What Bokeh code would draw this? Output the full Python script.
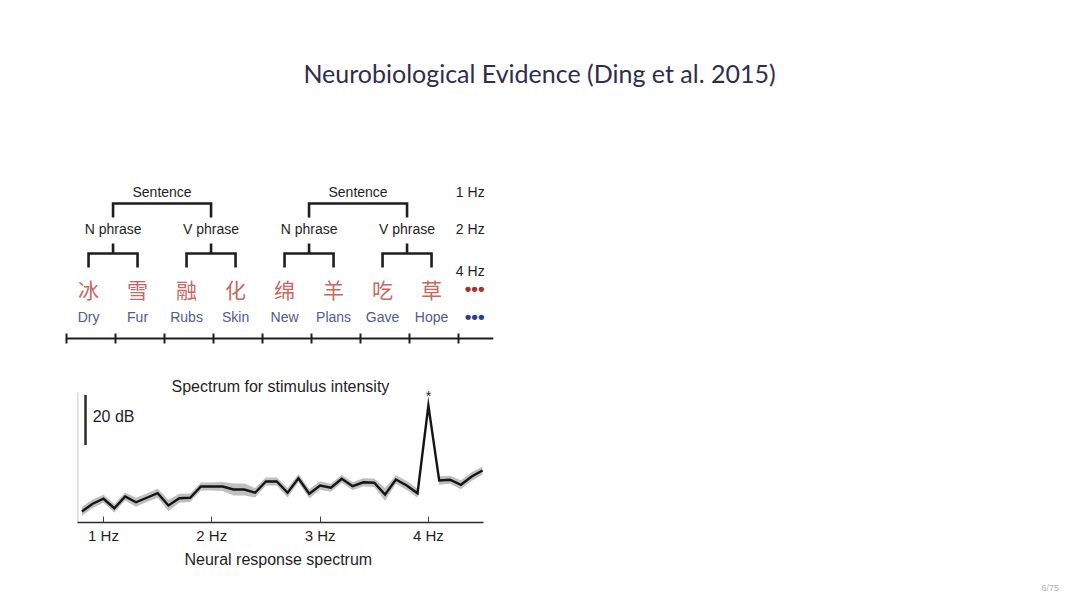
from bokeh.plotting import figure
from bokeh.models import Range1d, FixedTicker, LinearAxis, Title
from bokeh.embed import file_html
from bokeh.resources import INLINE
from bokeh.core.properties import value

# ---------------- data ----------------
title_text = "Neurobiological Evidence (Ding et al. 2015)"
page_label = "6/75"

chinese_words = ["冰", "雪", "融", "化", "绵", "羊", "吃", "草"]
english_words = ["Dry", "Fur", "Rubs", "Skin", "New", "Plans", "Gave", "Hope"]
phrase_labels = ["N phrase", "V phrase", "N phrase", "V phrase"]
sentence_labels = ["Sentence", "Sentence"]
rate_labels = ["1 Hz", "2 Hz", "4 Hz"]
continuation = "•••"

spectrum_title = "Spectrum for stimulus intensity"
spectrum_xlabel = "Neural response spectrum"
freq_ticks = [1, 2, 3, 4]
freq_tick_labels = ["1 Hz", "2 Hz", "3 Hz", "4 Hz"]
scale_bar_label = "20 dB"
scale_bar_db = 20
peak_marker = "*"
peak_freq = 4.0

freq_hz = [0.8, 0.9, 1.0, 1.1, 1.2, 1.3, 1.4, 1.5, 1.6, 1.7, 1.8, 1.9,
           2.0, 2.1, 2.2, 2.3, 2.4, 2.5, 2.6, 2.7, 2.8, 2.9,
           3.0, 3.1, 3.2, 3.3, 3.4, 3.5, 3.6, 3.7, 3.8, 3.9,
           4.0, 4.1, 4.2, 4.3, 4.4, 4.5]
power_db = [4.4, 7.5, 9.5, 5.7, 10.4, 8.1, 9.9, 11.7, 6.8, 9.7, 9.9, 14.4,
            14.4, 14.4, 13.2, 13.2, 11.9, 16.4, 16.4, 11.9, 17.7, 11.5,
            14.8, 13.9, 17.5, 14.5, 16.1, 15.9, 11.2, 17.2, 14.8, 11.7,
            46.8, 16.8, 17.1, 15.1, 18.4, 20.8]
power_sem = [1.8, 1.7, 1.6, 1.7, 1.6, 1.8, 1.7, 1.8, 2.3, 1.8, 1.7, 1.6,
             1.6, 1.8, 2.4, 2.4, 1.9, 1.6, 1.6, 1.9, 1.6, 1.9,
             1.7, 1.6, 1.6, 1.6, 1.6, 1.7, 2.6, 1.7, 1.8, 1.8,
             1.2, 1.7, 1.6, 1.8, 1.7, 1.6]

# ---------------- layout / style ----------------
W, H = 1072, 606            # canvas (starts at page origin)
FRAME_BOTTOM = 522          # spectrum x-axis sits on the frame bottom
SANS = "Liberation Sans"
CJK = "Noto Sans CJK SC"
INK = "#1e1e1e"

# main ranges: x in word-slot units, y in pixels (downwards)
slot_px, slot0 = 49.0, 66.0
def slot_of(px):
    return (px - slot0) / slot_px

# spectrum ranges: frequency axis from x 77 to 483 px, 2.5 px per dB
spec_left, spec_right = 77.0, 483.0
f_left, f_right = 0.76, 4.509
fpp = (f_right - f_left) / (spec_right - spec_left)
freq_start = f_left - spec_left * fpp
freq_end = freq_start + W * fpp
px_per_db = 2.5
db_end = FRAME_BOTTOM / px_per_db

p = figure(width=W, height=H, output_backend="svg", toolbar_location=None,
           x_range=Range1d(slot_of(0), slot_of(W)),
           y_range=Range1d(FRAME_BOTTOM, 0),
           min_border_left=0, min_border_right=0, min_border_top=0,
           min_border_bottom=H - FRAME_BOTTOM,
           outline_line_color=None, x_axis_type=None, y_axis_type=None)
p.grid.visible = False
p.extra_x_ranges = {"freq": Range1d(freq_start, freq_end)}
p.extra_y_ranges = {"db": Range1d(0, db_end)}

# title
p.text(x=[slot_of(539)], y=[72], text=[title_text], text_font=value("Lato"),
       text_font_size="25px", text_color="#2e2e4c", text_align="center", text_baseline="middle")

n_words = len(english_words)
word_x = [i + 0.45 for i in range(n_words)]
Y_CN, Y_EN, Y_AX = 288, 316, 338

p.text(x=word_x, y=[Y_CN] * n_words, text=chinese_words, text_font=value(CJK),
       text_font_size="21px", text_color="#c8675f", text_align="center", text_baseline="middle")
p.text(x=word_x, y=[Y_EN] * n_words, text=english_words, text_font=value(SANS),
       text_font_size="14px", text_color="#4f5a94", text_align="center", text_baseline="middle")
dots_x = n_words + 0.33
p.text(x=[dots_x], y=[Y_CN], text=[continuation], text_font=value(SANS), text_font_size="19px",
       text_color="#a8322c", text_align="center", text_baseline="middle", text_font_style="bold")
p.text(x=[dots_x], y=[Y_EN], text=[continuation], text_font=value(SANS), text_font_size="19px",
       text_color="#2d3d8c", text_align="center", text_baseline="middle", text_font_style="bold")

# word-level brackets (4 Hz) -> phrases
phrase_x = []
xs, ys = [], []
for k in range(len(phrase_labels)):
    a, b = word_x[2 * k], word_x[2 * k + 1]
    xs.append([a, a, b, b]); ys.append([267, 253, 253, 267])
    c = (a + b) / 2
    phrase_x.append(c)
    xs.append([c, c]); ys.append([253, 243])
# phrase brackets (2 Hz) -> sentences
sent_x = []
for j in range(len(sentence_labels)):
    a, b = phrase_x[2 * j], phrase_x[2 * j + 1]
    xs.append([a, a, b, b]); ys.append([217, 203, 203, 217])
    sent_x.append((a + b) / 2)
p.multi_line(xs=xs, ys=ys, line_color=INK, line_width=2.6, line_join="miter", line_cap="butt")

p.text(x=phrase_x, y=[228] * len(phrase_x), text=phrase_labels, text_font=value(SANS),
       text_font_size="14px", text_color=INK, text_align="center", text_baseline="middle")
p.text(x=sent_x, y=[191] * len(sent_x), text=sentence_labels, text_font=value(SANS),
       text_font_size="14px", text_color=INK, text_align="center", text_baseline="middle")
p.text(x=[n_words + 0.24] * 3, y=[191, 228, 270], text=rate_labels, text_font=value(SANS),
       text_font_size="14px", text_color=INK, text_align="center", text_baseline="middle")

# time axis with ticks
p.segment(x0=[0], y0=[Y_AX], x1=[n_words + 0.71], y1=[Y_AX], line_color=INK, line_width=2)
tick_x = list(range(n_words + 1))
p.segment(x0=tick_x, y0=[Y_AX - 5] * len(tick_x), x1=tick_x, y1=[Y_AX + 5] * len(tick_x),
          line_color=INK, line_width=2)

# ---------------- spectrum ----------------
R = dict(x_range_name="freq", y_range_name="db")
lower = [v - s for v, s in zip(power_db, power_sem)]
upper = [v + s for v, s in zip(power_db, power_sem)]
p.varea(x=freq_hz, y1=lower, y2=upper, fill_color="#b4b4b4", fill_alpha=0.85, **R)
p.line(x=freq_hz, y=power_db, line_color="#151515", line_width=2.4, line_join="miter", **R)

# left spine
spine_top_db = 52
p.segment(x0=[f_left + 0.004], y0=[0], x1=[f_left + 0.004], y1=[spine_top_db],
          line_color="#c8c8c8", line_width=1, **R)

# scale bar
bar_x, bar_top = 0.834, 51
p.segment(x0=[bar_x], y0=[bar_top - scale_bar_db], x1=[bar_x], y1=[bar_top],
          line_color="#2a2a2a", line_width=2.5, **R)
p.text(x=[0.9], y=[bar_top - 8.5], text=[scale_bar_label], text_font=value(SANS),
       text_font_size="16px", text_color=INK, text_align="left", text_baseline="middle", **R)
p.text(x=[2.634], y=[54.5], text=[spectrum_title], text_font=value(SANS),
       text_font_size="16px", text_color=INK, text_align="center", text_baseline="middle", **R)
p.text(x=[peak_freq], y=[50.5], text=[peak_marker], text_font=value(SANS),
       text_font_size="14px", text_color=INK, text_align="center", text_baseline="middle", **R)

xa = LinearAxis(x_range_name="freq")
xa.bounds = (f_left, f_right)
xa.ticker = FixedTicker(ticks=freq_ticks)
xa.major_label_overrides = dict(zip(freq_ticks, freq_tick_labels))
xa.major_tick_in = 6
xa.major_tick_out = 0
xa.minor_tick_line_color = None
xa.major_tick_line_color = "#444444"
xa.axis_line_color = "#2a2a2a"
xa.axis_line_width = 1.5
xa.major_label_text_font = SANS
xa.major_label_text_font_size = "15px"
xa.major_label_text_color = INK
xa.major_label_standoff = 4
p.add_layout(xa, "below")

# axis title under the bounded axis, and the slide number, as bottom titles
p.add_layout(Title(text=spectrum_xlabel, align="left", offset=184, standoff=4,
                   text_font=SANS, text_font_size="16px", text_font_style="normal",
                   text_color=INK), "below")
p.add_layout(Title(text=page_label, align="left", offset=1041, standoff=22,
                   text_font=SANS, text_font_size="9px", text_font_style="normal",
                   text_color="#b0b0b0"), "below")

open("out.html", "w").write(file_html(p, INLINE))
